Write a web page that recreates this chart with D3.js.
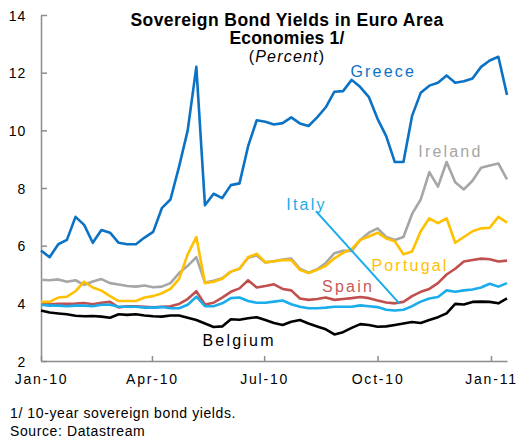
<!DOCTYPE html>
<html>
<head>
<meta charset="utf-8">
<script src="https://cdnjs.cloudflare.com/ajax/libs/d3/7.8.5/d3.min.js"></script>
<style>
body { margin: 0; background: #fff; }
text { font-family: "Liberation Sans", Arial, sans-serif; }
</style>
</head>
<body>
<div id="chart"></div>
<script>
// weekly observations (Fridays), starting 1 Jan 2010
var firstWeek = "2010-01-01";
var lastDay = "2011-01-14";

var greece = [5.83,5.6,6.05,6.2,7.0,6.72,6.1,6.54,6.45,6.1,6.05,6.05,6.28,6.48,7.3,7.6,8.74,10.0,12.2,7.4,
  7.8,7.65,8.1,8.16,9.45,10.35,10.3,10.2,10.25,10.45,10.24,10.15,10.45,10.8,11.34,11.36,11.75,11.5,11.15,10.4,
  9.8,8.9,8.9,10.5,11.3,11.55,11.65,11.9,11.65,11.7,11.8,12.2,12.42,12.55,11.23];
var ireland = [4.82,4.8,4.83,4.75,4.8,4.64,4.76,4.84,4.7,4.65,4.6,4.58,4.62,4.56,4.58,4.7,5.05,5.3,5.6,4.72,
  4.78,4.87,5.1,5.2,5.58,5.66,5.42,5.46,5.52,5.55,5.2,5.06,5.18,5.4,5.74,5.82,5.82,6.2,6.45,6.6,
  6.3,6.2,6.3,7.1,7.6,8.55,8.05,8.9,8.2,7.95,8.25,8.7,8.78,8.85,8.3];
var portugal = [4.05,4.05,4.2,4.23,4.42,4.75,4.55,4.44,4.25,4.08,4.08,4.08,4.2,4.25,4.35,4.5,4.85,5.7,6.3,4.7,
  4.75,4.85,5.1,5.2,5.6,5.72,5.42,5.46,5.5,5.5,5.16,5.05,5.16,5.3,5.56,5.75,5.88,6.2,6.32,6.45,
  6.25,6.15,5.7,5.8,6.5,6.95,6.78,6.95,6.1,6.3,6.5,6.6,6.62,7.0,6.8];
var spain = [3.98,3.97,3.98,3.98,3.99,4.01,3.97,4.02,4.05,3.86,3.9,3.9,3.88,3.86,3.88,3.9,3.98,4.15,4.42,3.96,
  4.02,4.2,4.4,4.52,4.8,4.55,4.6,4.66,4.5,4.45,4.17,4.12,4.15,4.2,4.12,4.15,4.18,4.22,4.18,4.1,
  4.03,4.0,4.05,4.25,4.4,4.5,4.7,5.0,5.2,5.45,5.5,5.55,5.53,5.45,5.48];
var italy = [3.95,3.92,3.92,3.9,3.92,3.92,3.9,3.95,3.95,3.88,3.88,3.88,3.85,3.85,3.87,3.83,3.83,3.95,4.23,3.9,
  3.9,4.0,4.18,4.2,4.08,4.02,4.02,4.06,4.1,3.97,3.88,3.83,3.83,3.85,3.88,3.88,3.88,3.93,3.9,3.87,
  3.78,3.75,3.78,3.9,4.06,4.17,4.22,4.45,4.4,4.45,4.48,4.55,4.68,4.58,4.7];
var belgium = [3.75,3.68,3.65,3.62,3.57,3.55,3.56,3.54,3.5,3.62,3.6,3.62,3.58,3.55,3.54,3.58,3.58,3.5,3.42,3.3,
  3.18,3.2,3.45,3.43,3.48,3.52,3.42,3.32,3.25,3.36,3.42,3.3,3.2,3.1,2.92,3.0,3.15,3.28,3.25,3.19,
  3.2,3.25,3.3,3.35,3.32,3.42,3.52,3.65,3.98,3.96,4.05,4.06,4.05,4.0,4.17];

var seriesNames = ["Belgium", "Ireland", "Spain", "Italy", "Portugal", "Greece"];
var seriesValues = [belgium, ireland, spain, italy, portugal, greece];
var seriesColors = ["#000000", "#A6A6A6", "#C0504D", "#1AACEB", "#FFC000", "#0B72C4"];

var yTicks = [2, 4, 6, 8, 10, 12, 14];
var xTickLabels = ["Jan-10", "Apr-10", "Jul-10", "Oct-10", "Jan-11"];
var xTickDates = ["2010-01-01", "2010-04-01", "2010-07-01", "2010-10-01", "2011-01-01"];

var parse = d3.timeParse("%Y-%m-%d");
var start = parse(firstWeek);
var dates = greece.map(function(d, i) { return d3.timeDay.offset(start, 7 * i); });

var width = 518, height = 438;
var svg = d3.select("#chart").append("svg")
    .attr("width", width)
    .attr("height", height);

var x = d3.scaleTime()
    .domain([start, parse(lastDay)])
    .range([41, 507]);
var y = d3.scaleLinear()
    .domain([2, 14])
    .range([361, 15]);

// axes
var gx = svg.append("g")
    .attr("transform", "translate(0," + y(2) + ")")
    .call(d3.axisBottom(x)
        .tickValues(xTickDates.map(parse))
        .tickFormat(function(d, i) { return xTickLabels[i]; })
        .tickSizeInner(-5).tickSizeOuter(0).tickPadding(13));
var gy = svg.append("g")
    .attr("transform", "translate(" + x(start) + ",0)")
    .call(d3.axisLeft(y)
        .tickValues(yTicks)
        .tickSizeInner(-6).tickSizeOuter(0).tickPadding(15));

[gx, gy].forEach(function(g) {
    g.select(".domain").attr("stroke", "#8C8C8C").attr("stroke-width", 1.5);
    g.selectAll(".tick line").attr("stroke", "#8C8C8C").attr("stroke-width", 1.5);
    g.selectAll(".tick text")
        .attr("fill", "#000")
        .style("font-size", "14px")
        .style("font-family", "'Liberation Sans', Arial, sans-serif");
});
gx.selectAll(".tick text").style("letter-spacing", "1.8px");
gy.selectAll(".tick text").style("letter-spacing", "0.8px").attr("dy", "0.36em");

// lines
var line = d3.line()
    .x(function(d, i) { return x(dates[i]); })
    .y(function(d) { return y(d); });

svg.append("g").selectAll("path")
    .data(seriesValues)
    .enter()
    .append("path")
    .attr("d", line)
    .attr("fill", "none")
    .attr("stroke", function(d, i) { return seriesColors[i]; })
    .attr("stroke-width", 2.6)
    .attr("stroke-linejoin", "round");

// Italy leader line
svg.append("line")
    .attr("x1", x(parse("2010-08-12"))).attr("y1", y(7.2))
    .attr("x2", x(parse("2010-10-19"))).attr("y2", y(3.98))
    .attr("stroke", "#1AACEB")
    .attr("stroke-width", 2);

// series labels
var labels = [
    {name: "Greece", date: "2010-09-09", v: 11.85, color: "#0B72C4"},
    {name: "Ireland", date: "2010-11-03", v: 9.08, color: "#A6A6A6"},
    {name: "Italy", date: "2010-07-19", v: 7.24, color: "#1AACEB"},
    {name: "Portugal", date: "2010-09-26", v: 5.11, color: "#FFC000"},
    {name: "Spain", date: "2010-08-17", v: 4.39, color: "#C85A57"},
    {name: "Belgium", date: "2010-05-12", v: 2.52, color: "#000000"}
];
svg.append("g").selectAll("text")
    .data(labels)
    .enter()
    .append("text")
    .attr("x", function(d) { return x(parse(d.date)); })
    .attr("y", function(d) { return y(d.v); })
    .attr("fill", function(d) { return d.color; })
    .style("font-size", "16px")
    .style("letter-spacing", "2.2px")
    .text(function(d) { return d.name; });

// title
var title = svg.append("g").attr("text-anchor", "middle");
title.append("text").attr("x", 287).attr("y", 26)
    .style("font-size", "17.5px").style("font-weight", "bold").style("letter-spacing", "0.45px")
    .text("Sovereign Bond Yields in Euro Area");
title.append("text").attr("x", 287).attr("y", 44)
    .style("font-size", "17.5px").style("font-weight", "bold").style("letter-spacing", "0.2px")
    .text("Economies 1/");
title.append("text").attr("x", 287).attr("y", 62)
    .style("font-size", "16px").style("letter-spacing", "1.2px")
    .html("(<tspan font-style='italic'>Percent</tspan>)");

// footnotes
svg.append("text").attr("x", 10).attr("y", 418)
    .style("font-size", "14px").style("letter-spacing", "0.6px")
    .text("1/ 10-year sovereign bond yields.");
svg.append("text").attr("x", 10).attr("y", 436)
    .style("font-size", "14px").style("letter-spacing", "0.6px")
    .text("Source: Datastream");
</script>
</body>
</html>
